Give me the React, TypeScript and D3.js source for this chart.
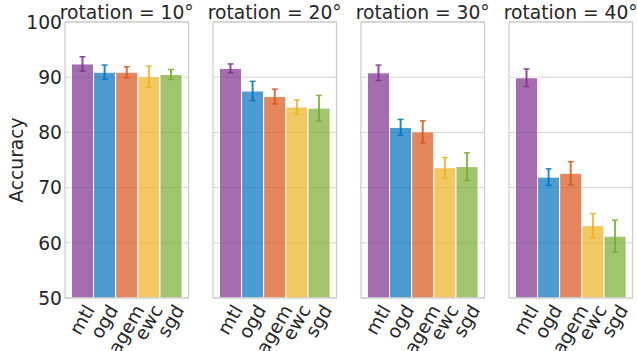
import React from "react";
import * as d3 from "d3";

const methods = ["mtl", "ogd", "agem", "ewc", "sgd"];
const rotations = ["10", "20", "30", "40"];
const accMean = [
  [92.4, 90.9, 90.9, 90.1, 90.5],
  [91.6, 87.5, 86.5, 84.6, 84.4],
  [90.8, 80.9, 80.1, 73.6, 73.8],
  [89.9, 71.9, 72.6, 63.1, 61.2],
];
const accErr = [
  [1.3, 1.3, 1.0, 1.9, 0.9],
  [0.8, 1.75, 1.35, 1.3, 2.3],
  [1.4, 1.45, 2.0, 1.85, 2.5],
  [1.6, 1.5, 2.1, 2.2, 2.9],
];
const yTicks = [50, 60, 70, 80, 90, 100];
const colors = ["#7E2F8E", "#0072BD", "#D95319", "#EDB120", "#77AC30"];

const W = 637, H = 351;
const top = 22, bottom = 298;
const panelLeft = [65, 213, 361, 509];
const panelW = 123.5;
const FONT = "DejaVu Sans, sans-serif";
const FS = 18.7;
const textColor = "#262626";

let ctx: CanvasRenderingContext2D | null = null;
function measure(t: string): number {
  if (!ctx) {
    const c = document.createElement("canvas");
    ctx = c.getContext("2d");
  }
  if (!ctx) return t.length * FS * 0.6;
  ctx.font = `${FS}px DejaVu Sans`;
  return ctx.measureText(t).width;
}

export default function App() {
  const y = d3.scaleLinear().domain([50, 100]).range([bottom, top]);
  const ang = (60 * Math.PI) / 180;
  const lineH = FS * 1.0;
  return (
    <svg
      width={W}
      height={H}
      style={{ position: "fixed", left: 0, top: 0, background: "#fff" }}
      fontFamily={FONT}
    >
      <rect x={0} y={0} width={W} height={H} fill="#fff" />
      <text
        transform={`translate(23,${(top + bottom) / 2}) rotate(-90)`}
        textAnchor="middle"
        fontSize={FS}
        fill={textColor}
      >
        Accuracy
      </text>
      {yTicks.map((t) => (
        <text
          key={t}
          x={panelLeft[0] - 3}
          y={y(t)}
          dy="0.36em"
          textAnchor="end"
          fontSize={FS}
          fill={textColor}
        >
          {t}
        </text>
      ))}
      {rotations.map((rot, pi) => {
        const x0 = panelLeft[pi];
        const x = d3
          .scaleBand()
          .domain(methods)
          .range([x0, x0 + panelW])
          .paddingInner(0)
          .paddingOuter(0.29);
        return (
          <g key={rot}>
            {yTicks.map((t) => (
              <line
                key={t}
                x1={x0}
                x2={x0 + panelW}
                y1={y(t)}
                y2={y(t)}
                stroke="#d4d4d4"
                strokeWidth={1}
              />
            ))}
            {methods.map((m, i) => {
              const v = accMean[pi][i];
              const bx = x(m)!;
              return (
                <rect
                  key={m}
                  x={bx}
                  y={y(v)}
                  width={x.bandwidth()}
                  height={y(50) - y(v)}
                  fill={colors[i]}
                  fillOpacity={0.7}
                  stroke="#fff"
                  strokeWidth={1}
                />
              );
            })}
            {methods.map((m, i) => {
              const v = accMean[pi][i];
              const e = accErr[pi][i];
              const cx = x(m)! + x.bandwidth() / 2;
              return (
                <g key={m} stroke={colors[i]} strokeOpacity={0.85}>
                  <line x1={cx} x2={cx} y1={y(v - e)} y2={y(v + e)} strokeWidth={2} />
                  <line x1={cx - 3} x2={cx + 3} y1={y(v - e)} y2={y(v - e)} strokeWidth={1.5} />
                  <line x1={cx - 3} x2={cx + 3} y1={y(v + e)} y2={y(v + e)} strokeWidth={1.5} />
                </g>
              );
            })}
            <rect
              x={x0}
              y={top}
              width={panelW}
              height={bottom - top}
              fill="none"
              stroke="#cccccc"
              strokeWidth={1.25}
            />
            <text
              x={x0 + panelW / 2}
              y={19}
              textAnchor="middle"
              fontSize={FS}
              fill={textColor}
            >
              {`rotation = ${rot}°`}
            </text>
            {methods.map((m) => {
              const cx = x(m)! + x.bandwidth() / 2;
              const L = measure(m);
              const bh = L * Math.sin(ang) + lineH * Math.cos(ang);
              const cy = bottom + 4 + bh / 2;
              return (
                <text
                  key={m}
                  transform={`translate(${cx},${cy}) rotate(-60)`}
                  textAnchor="middle"
                  dy="0.32em"
                  fontSize={FS}
                  fill={textColor}
                >
                  {m}
                </text>
              );
            })}
          </g>
        );
      })}
    </svg>
  );
}
